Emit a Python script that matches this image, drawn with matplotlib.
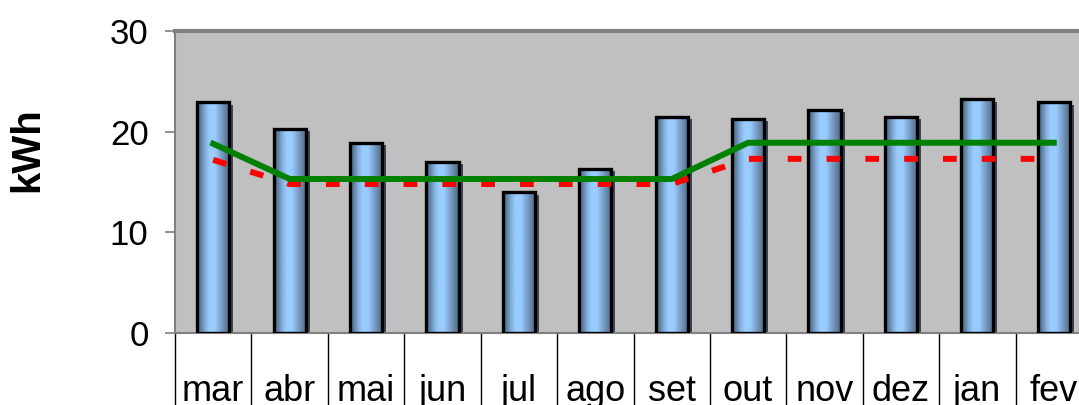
import numpy as np
import matplotlib.pyplot as plt
from matplotlib.colors import LinearSegmentedColormap
from matplotlib.patches import Rectangle

plt.rcParams['font.family'] = ['Liberation Sans', 'DejaVu Sans']

# Data
months = ['mar', 'abr', 'mai', 'jun', 'jul', 'ago', 'set', 'out', 'nov', 'dez', 'jan', 'fev']
consumo = [22.9, 20.3, 18.9, 17.0, 14.0, 16.3, 21.5, 21.3, 22.2, 21.5, 23.2, 22.9]
media_verde = [18.8, 15.3, 15.3, 15.3, 15.3, 15.3, 15.3, 18.9, 18.9, 18.9, 18.9, 18.9]
media_vermelha = [17.2, 14.8, 14.8, 14.8, 14.8, 14.8, 14.8, 17.3, 17.3, 17.3, 17.3, 17.3]

W, H = 1079, 405
fig = plt.figure(figsize=(W / 100, H / 100), dpi=100)
# plot area runs slightly past the right edge of the picture
ax = fig.add_axes([175 / W, (H - 333) / H, (1092 - 175) / W, (333 - 31) / H])
ax.set_facecolor('#c0c0c0')

x = np.arange(len(months))
bar_w = 0.42

# cylinder-like gradient for the bars
cyl = LinearSegmentedColormap.from_list('cyl', [
    (0.0, '#4a6583'), (0.12, '#5f80a3'), (0.25, '#84afdc'), (0.38, '#99ccff'),
    (0.55, '#99ccff'), (0.7, '#80a8d2'), (0.85, '#6686a9'), (1.0, '#4e6a88')])
grad = np.linspace(0, 1, 256).reshape(1, -1)

# shadow behind bars
dx = 4 / 76.4
dy = 0.25
ax.bar(x + dx, np.array(consumo) - dy, width=bar_w, color='#3c4656', zorder=1)

bars = ax.bar(x, consumo, width=bar_w, facecolor='none', edgecolor='black',
              linewidth=2.4, zorder=3)
for b in bars:
    x0 = b.get_x()
    h = b.get_height()
    im = ax.imshow(grad, cmap=cyl, aspect='auto', extent=(x0, x0 + b.get_width(), 0, h),
                   zorder=2, interpolation='bilinear')
    clip = Rectangle((x0, 0), b.get_width(), h, transform=ax.transData)
    im.set_clip_path(clip)

ax.plot(x, media_vermelha, color='#ff0000', linewidth=4.3,
        linestyle=(0, (2.3, 4.2)), dash_capstyle='butt', zorder=4)
ax.plot(x, media_verde, color='#008000', linewidth=4.3, zorder=5)

ax.set_xlim(-0.5, len(months) - 0.5)
ax.set_ylim(0, 30)
ax.set_yticks([0, 10, 20, 30])
ax.tick_params(axis='y', labelsize=25, length=7, width=1.2, color='#808080',
               direction='out', pad=12)
ax.set_xticks([])

for s in ['left', 'bottom']:
    ax.spines[s].set_color('#808080')
    ax.spines[s].set_linewidth(1.5)
ax.spines['top'].set_color('#808080')
ax.spines['top'].set_linewidth(3)
ax.spines['right'].set_visible(False)

# category table below the plot
trans = ax.get_xaxis_transform()
for i in range(len(months) + 1):
    ax.plot([i - 0.5, i - 0.5], [0, -0.3], color='black', linewidth=1,
            transform=trans, clip_on=False)
for i, m in enumerate(months):
    ax.text(i, -0.225, m, transform=trans, ha='center', va='baseline',
            fontsize=26, clip_on=False)

fig.text(27 / W, 1 - 150 / H, 'kWh', rotation=90, ha='center', va='center',
         fontsize=29, fontweight='bold')

fig.savefig('out.png', dpi=100)
